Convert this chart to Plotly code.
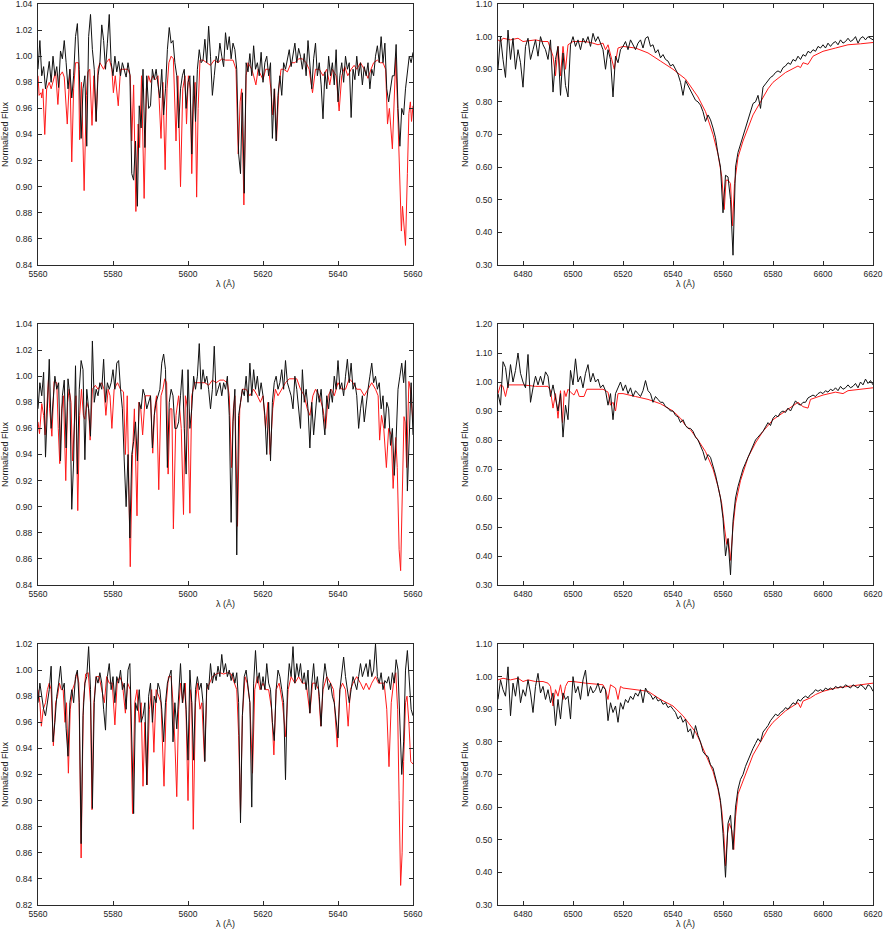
import numpy as np
import plotly.graph_objects as go

# ---------------- data ----------------
# Panel 1 (top-left): observed flux on a 0.5 A grid starting 5560 A
p1_obs_start, p1_obs_step = 5560.0, 0.5
p1_obs_flux = [
    0.990, 1.012, 0.985, 0.992, 0.975, 0.986, 0.996, 0.980, 1.000, 0.985,
    0.992, 0.976, 1.004, 0.998, 1.012, 0.995, 0.975, 0.990, 0.968, 0.985,
    1.015, 1.025, 0.990, 0.937, 0.975, 0.985, 0.931, 1.015, 1.032, 1.005,
    0.990, 0.950, 0.985, 0.995, 1.024, 1.012, 0.990, 1.010, 1.032, 0.995,
    0.985, 1.000, 0.988, 0.996, 0.985, 0.995, 0.990, 0.984, 0.995, 0.986,
    0.910, 0.905, 0.935, 0.885, 0.962, 0.945, 0.990, 0.930, 0.985, 0.960,
    0.962, 0.990, 0.982, 0.990, 0.978, 0.968, 0.990, 0.955, 0.975, 1.005,
    1.022, 1.010, 1.012, 0.995, 0.985, 0.945, 0.975, 0.985, 0.990, 0.960,
    0.980, 0.985, 0.925, 0.985, 0.950, 0.990, 1.005, 0.995, 0.997, 1.013,
    0.995, 1.023, 1.000, 0.970, 0.985, 1.000, 0.995, 1.010, 1.000, 0.992,
    1.018, 1.005, 1.015, 0.998, 1.010, 1.005, 0.990, 0.925, 0.910, 0.972,
    0.895, 0.995, 0.988, 1.002, 0.985, 1.008, 0.990, 0.995, 0.985, 1.003,
    0.980, 0.995, 1.000, 0.985, 0.995, 0.937, 0.975, 0.935, 0.970, 0.985,
    0.970, 0.995, 0.990, 0.998, 1.005, 0.992, 1.000, 1.010, 0.995, 1.006,
    1.000, 0.990, 1.002, 0.985, 1.012, 0.990, 0.975, 0.998, 1.010, 0.985,
    0.995, 0.978, 0.952, 0.988, 0.975, 1.000, 0.985, 0.995, 0.978, 1.005,
    0.965, 0.985, 0.995, 0.980, 1.000, 0.990, 0.995, 0.953, 0.990, 0.982,
    1.000, 0.985, 0.995, 0.978, 0.992, 0.985, 0.995, 0.975, 0.990, 0.985,
    1.000, 1.008, 0.995, 1.015, 0.995, 1.010, 0.975, 0.965, 0.975, 0.985,
    0.985, 1.009, 0.960, 0.931, 0.960, 0.955, 0.975, 0.990, 1.000, 0.995,
    1.003,
]
p1_mod_wave = [
    5560.0, 5560.3, 5560.8, 5561.0, 5561.3, 5561.8, 5562.3, 5563.0, 5563.5, 5564.0,
    5564.7, 5565.3, 5565.8, 5566.5, 5567.0, 5567.8, 5568.3, 5568.5, 5569.0, 5569.5,
    5570.0, 5570.8, 5571.1, 5571.6, 5572.3, 5572.9, 5573.3, 5573.8, 5574.4, 5574.9,
    5575.5, 5576.0, 5576.5, 5577.5, 5578.2, 5579.0, 5579.7, 5580.1, 5580.6, 5581.4,
    5582.0, 5583.0, 5584.0, 5584.6, 5585.0, 5585.5, 5586.1, 5586.7, 5587.1, 5587.6,
    5588.3, 5588.9, 5589.5, 5590.0, 5590.6, 5591.3, 5592.0, 5592.8, 5593.3, 5593.9,
    5594.4, 5594.9, 5595.5, 5596.1, 5596.8, 5597.3, 5598.0, 5598.6, 5599.2, 5599.6,
    5600.1, 5600.6, 5601.0, 5601.5, 5601.9, 5602.3, 5602.7, 5603.2, 5604.0, 5605.0,
    5606.0, 5607.0, 5608.0, 5609.0, 5610.0, 5611.0, 5612.0, 5612.8, 5613.4, 5613.9,
    5614.3, 5614.9, 5615.5, 5616.0, 5617.0, 5617.5, 5618.1, 5618.7, 5619.4, 5620.0,
    5620.7, 5621.5, 5622.1, 5622.6, 5623.1, 5623.6, 5624.2, 5624.8, 5625.5, 5626.5,
    5627.5, 5628.5, 5629.5, 5630.5, 5631.5, 5632.3, 5633.2, 5634.0, 5635.0, 5636.0,
    5637.0, 5637.8, 5638.5, 5639.5, 5640.3, 5641.0, 5641.8, 5642.6, 5643.5, 5644.3,
    5645.0, 5646.0, 5647.0, 5648.0, 5648.8, 5649.5, 5650.5, 5651.3, 5652.0, 5652.7,
    5653.2, 5653.7, 5654.5, 5655.0, 5655.4, 5655.9, 5656.4, 5656.9, 5657.2, 5657.6,
    5658.0, 5658.5, 5658.9, 5659.3, 5659.6, 5660.0,
]
p1_mod_flux = [
    0.985, 0.970, 0.972, 0.968, 0.975, 0.940, 0.975, 0.980, 0.975, 0.980,
    0.988, 0.963, 0.985, 0.988, 0.984, 0.948, 0.975, 0.990, 0.919, 0.975,
    0.995, 0.995, 0.936, 0.980, 0.897, 0.970, 0.988, 0.990, 0.947, 0.985,
    0.950, 0.990, 0.995, 0.990, 0.995, 0.998, 0.990, 0.972, 0.985, 0.962,
    0.990, 0.990, 0.990, 0.985, 0.935, 0.978, 0.881, 0.948, 0.930, 0.985,
    0.891, 0.975, 0.985, 0.980, 0.985, 0.982, 0.985, 0.937, 0.980, 0.913,
    0.975, 0.995, 1.000, 0.998, 0.935, 0.985, 0.900, 0.975, 0.985, 0.948,
    0.985, 0.975, 0.910, 0.970, 0.980, 0.892, 0.960, 0.997, 0.997, 0.995,
    0.993, 0.997, 0.995, 0.998, 0.997, 0.997, 0.997, 0.990, 0.925, 0.965,
    0.975, 0.886, 0.985, 0.995, 0.990, 0.985, 0.978, 0.990, 0.985, 0.982,
    0.990, 0.990, 0.975, 0.955, 0.975, 0.935, 0.975, 0.990, 0.990, 0.988,
    0.995, 0.995, 0.998, 0.998, 0.995, 0.990, 0.972, 0.990, 0.990, 0.985,
    0.990, 0.978, 0.990, 0.985, 0.958, 0.985, 0.992, 0.985, 0.990, 0.993,
    0.990, 0.995, 0.990, 0.983, 0.990, 0.995, 0.997, 0.995, 0.995, 0.990,
    0.948, 0.960, 0.929, 0.970, 0.999, 0.960, 0.910, 0.866, 0.885, 0.870,
    0.855, 0.910, 0.956, 0.965, 0.950, 0.962,
]

# Panel 2 (top-right): observed flux on a 1 A grid starting 6470 A
p2_obs_start, p2_obs_step = 6470.0, 1.0
p2_obs_flux = [
    0.90, 1.00, 0.93, 0.875, 1.02, 0.93, 0.995, 0.90, 0.96, 0.92,
    0.845, 0.97, 0.995, 0.93, 0.96, 0.99, 0.94, 1.00, 0.975, 0.96,
    0.93, 0.99, 0.83, 0.93, 0.97, 0.82, 0.95, 0.85, 0.815, 0.975,
    1.00, 0.97, 0.99, 0.96, 0.995, 0.98, 1.00, 0.97, 1.01, 0.985,
    1.00, 0.98, 0.96, 0.90, 0.96, 0.93, 0.815, 0.94, 0.92, 0.96,
    0.97, 0.985, 0.96, 0.99, 0.975, 0.96, 0.98, 0.99, 0.965, 0.995,
    1.00, 0.97, 0.975, 0.95, 0.96, 0.935, 0.945, 0.93, 0.925, 0.91,
    0.915, 0.90, 0.885, 0.86, 0.82, 0.865, 0.85, 0.84, 0.825, 0.805,
    0.80, 0.79, 0.77, 0.74, 0.76, 0.745, 0.72, 0.69, 0.64, 0.60,
    0.46, 0.575, 0.57, 0.50, 0.33, 0.60, 0.645, 0.67, 0.69, 0.72,
    0.745, 0.77, 0.795, 0.80, 0.82, 0.78, 0.845, 0.855, 0.865, 0.875,
    0.88, 0.89, 0.895, 0.89, 0.905, 0.91, 0.92, 0.915, 0.93, 0.925,
    0.94, 0.93, 0.945, 0.94, 0.955, 0.95, 0.96, 0.955, 0.97, 0.965,
    0.975, 0.965, 0.98, 0.97, 0.98, 0.985, 0.975, 0.99, 0.98, 0.985,
    0.995, 0.985, 0.99, 1.00, 0.98, 0.995, 1.00, 0.99, 1.00, 0.995,
    0.99,
]
p2_mod_wave = [
    6470, 6471, 6472, 6475, 6478, 6480, 6485, 6488, 6490, 6491,
    6492, 6493, 6494, 6495, 6496, 6497, 6498, 6500, 6505, 6508,
    6510, 6512, 6513, 6514, 6516.5, 6518, 6520, 6525, 6530, 6535,
    6540, 6545, 6550, 6553, 6556, 6558, 6559.5, 6560.5, 6561.2, 6562,
    6563, 6563.8, 6564.6, 6566, 6568, 6570, 6572, 6575, 6578, 6580,
    6585, 6590, 6591, 6592, 6594, 6596, 6600, 6605, 6610, 6615,
    6620,
]
p2_mod_flux = [
    0.99, 0.985, 0.995, 0.99, 0.995, 0.985, 0.99, 0.985, 0.985, 0.96,
    0.94, 0.88, 0.97, 0.88, 0.97, 0.90, 0.975, 0.985, 0.985, 0.98,
    0.975, 0.98, 0.96, 0.975, 0.90, 0.965, 0.97, 0.965, 0.95, 0.925,
    0.90, 0.87, 0.815, 0.77, 0.70, 0.64, 0.57, 0.47, 0.56, 0.56,
    0.55, 0.42, 0.55, 0.63, 0.68, 0.72, 0.76, 0.80, 0.84, 0.86,
    0.89, 0.91, 0.905, 0.92, 0.915, 0.94, 0.955, 0.965, 0.975, 0.978,
    0.982,
]

# Panel 3 (middle-left)
p3_obs_start, p3_obs_step = 5560.0, 0.5
p3_obs_flux = [
    0.975, 0.995, 0.985, 1.003, 0.938, 0.985, 1.013, 0.960, 0.980, 1.000,
    0.990, 0.995, 0.935, 0.985, 0.997, 0.945, 0.998, 0.985, 0.898, 0.935,
    1.008, 0.925, 0.990, 1.012, 1.005, 0.936, 0.990, 0.975, 0.954, 1.027,
    0.980, 0.990, 0.985, 0.995, 0.990, 1.013, 0.980, 0.995, 0.990, 0.995,
    1.005, 0.990, 1.010, 1.012, 0.990, 0.975, 0.935, 0.900, 0.940, 0.876,
    0.940, 0.950, 0.965, 0.935, 0.980, 0.975, 0.990, 0.985, 0.975, 0.980,
    0.985, 0.945, 0.970, 0.980, 0.985, 0.990, 1.010, 1.017, 1.005, 0.930,
    0.980, 0.990, 0.985, 0.960, 0.960, 0.965, 0.985, 1.005, 0.960, 0.925,
    1.005, 0.960, 0.975, 1.000, 0.990, 1.000, 1.025, 0.990, 1.005, 0.995,
    1.000, 0.990, 0.975, 0.990, 1.023, 0.985, 0.990, 0.995, 0.985, 0.995,
    0.990, 1.000, 0.970, 0.888, 0.965, 0.990, 0.863, 0.970, 0.980, 0.990,
    0.985, 1.000, 0.980, 1.010, 0.985, 1.005, 0.990, 1.000, 0.985, 0.995,
    0.985, 0.970, 0.940, 0.980, 0.935, 0.980, 0.995, 1.000, 0.990, 0.995,
    1.005, 0.990, 1.012, 0.995, 0.990, 0.985, 0.975, 1.000, 0.990, 0.975,
    0.960, 1.005, 0.980, 0.990, 0.975, 0.945, 0.980, 0.955, 0.970, 0.990,
    0.980, 0.990, 0.970, 0.955, 0.985, 0.975, 0.990, 0.980, 1.000, 0.990,
    1.012, 0.990, 0.995, 0.985, 1.000, 1.013, 0.995, 1.010, 0.990, 0.995,
    0.985, 0.960, 0.975, 0.985, 0.965, 0.980, 0.990, 1.000, 1.010, 0.995,
    1.000, 0.990, 0.995, 0.975, 0.985, 0.960, 0.980, 0.975, 0.947, 0.960,
    0.924, 0.952, 0.990, 1.000, 1.010, 0.995, 1.012, 0.912, 0.960, 0.995,
    0.955,
]
p3_mod_wave = [
    5560.0, 5560.4, 5561.0, 5561.5, 5561.9, 5562.5, 5562.8, 5563.1, 5563.7, 5564.3,
    5565.0, 5565.4, 5565.8, 5566.3, 5566.8, 5567.4, 5567.9, 5568.3, 5568.8, 5569.2,
    5569.7, 5570.1, 5570.6, 5571.1, 5571.6, 5572.1, 5572.5, 5573.0, 5573.5, 5573.9,
    5574.5, 5575.3, 5576.0, 5577.0, 5577.6, 5578.1, 5578.7, 5579.2, 5579.7, 5580.3,
    5581.2, 5582.0, 5582.8, 5583.3, 5583.8, 5584.6, 5585.2, 5585.7, 5586.4, 5586.9,
    5587.4, 5587.9, 5588.6, 5589.5, 5590.0, 5590.6, 5591.1, 5591.6, 5592.2, 5592.8,
    5593.3, 5593.8, 5594.3, 5594.7, 5595.2, 5595.7, 5596.1, 5596.8, 5597.5, 5598.2,
    5598.8, 5599.3, 5599.9, 5600.5, 5601.0, 5601.8, 5602.5, 5603.5, 5604.5, 5605.5,
    5606.5, 5607.5, 5608.5, 5609.5, 5610.5, 5611.0, 5611.6, 5612.1, 5612.5, 5613.2,
    5613.8, 5614.5, 5615.5, 5616.5, 5617.5, 5618.5, 5619.3, 5620.0, 5620.7, 5621.3,
    5621.9, 5622.6, 5623.3, 5624.0, 5625.0, 5626.0, 5627.0, 5628.0, 5629.0, 5630.0,
    5631.0, 5631.8, 5632.5, 5633.3, 5634.0, 5635.0, 5636.0, 5636.7, 5637.4, 5638.2,
    5639.0, 5640.0, 5641.0, 5642.0, 5643.0, 5644.0, 5645.0, 5646.0, 5647.0, 5648.0,
    5649.0, 5650.0, 5650.7, 5651.1, 5651.6, 5652.2, 5652.9, 5653.5, 5654.2, 5654.7,
    5655.1, 5655.4, 5655.8, 5656.3, 5656.7, 5657.1, 5657.6, 5657.9, 5658.3, 5658.9,
    5659.3, 5659.7, 5660.0,
]
p3_mod_flux = [
    0.965, 0.956, 0.979, 0.970, 0.955, 0.985, 0.998, 0.975, 0.954, 0.996,
    0.995, 0.960, 0.933, 0.975, 0.985, 0.920, 0.980, 0.990, 0.980, 0.935,
    0.970, 0.985, 0.897, 0.970, 0.990, 0.970, 0.967, 0.980, 0.975, 0.951,
    0.990, 0.993, 0.990, 0.995, 0.990, 0.970, 0.990, 0.985, 0.960, 0.990,
    0.995, 0.990, 0.988, 0.940, 0.985, 0.854, 0.940, 0.975, 0.893, 0.980,
    0.975, 0.955, 0.985, 0.985, 0.985, 0.941, 0.975, 0.985, 0.913, 0.985,
    0.990, 0.998, 0.995, 0.925, 0.975, 0.975, 0.883, 0.970, 0.985, 0.960,
    0.894, 0.985, 0.975, 0.895, 0.985, 0.995, 0.995, 0.995, 0.995, 0.993,
    0.997, 0.995, 0.997, 0.997, 0.995, 0.985, 0.930, 0.975, 0.985, 0.885,
    0.975, 0.990, 0.990, 0.985, 0.990, 0.985, 0.980, 0.985, 0.960, 0.980,
    0.940, 0.975, 0.990, 0.985, 0.990, 0.995, 0.998, 0.998, 0.998, 0.990,
    0.985, 0.975, 0.970, 0.985, 0.990, 0.985, 0.975, 0.960, 0.985, 0.990,
    0.985, 0.995, 0.990, 0.990, 0.998, 0.995, 0.990, 0.990, 0.985, 0.990,
    0.995, 0.990, 0.985, 0.951, 0.970, 0.960, 0.930, 0.960, 0.955, 0.914,
    0.940, 0.953, 0.930, 0.867, 0.851, 0.900, 0.969, 0.965, 0.930, 0.996,
    0.990, 0.975, 0.965,
]

# Panel 4 (middle-right)
p4_obs_start, p4_obs_step = 6470.0, 1.0
p4_obs_flux = [
    0.96, 0.92, 1.07, 1.05, 0.98, 1.06, 1.00, 1.04, 1.10, 1.03,
    1.00, 0.98, 1.095, 0.93, 0.98, 1.02, 0.99, 1.02, 0.99, 1.035,
    1.02, 0.95, 0.99, 0.94, 0.90, 0.96, 0.81, 0.92, 0.87, 1.04,
    0.99, 1.08, 1.00, 1.02, 0.98, 1.03, 1.06, 1.00, 1.03, 1.00,
    1.01, 0.98, 0.99, 0.97, 0.92, 0.96, 0.87, 0.96, 0.98, 1.00,
    0.97, 0.99, 0.96, 0.98, 0.95, 0.97, 0.96, 0.95, 0.97, 1.005,
    0.97, 0.96, 0.93, 0.95, 0.94, 0.93, 0.93, 0.915, 0.91, 0.90,
    0.90, 0.885, 0.88, 0.86, 0.87, 0.85, 0.84, 0.84, 0.83, 0.81,
    0.80, 0.78, 0.76, 0.73, 0.75, 0.74, 0.71, 0.68, 0.64, 0.60,
    0.53, 0.40, 0.46, 0.335, 0.52, 0.60, 0.64, 0.67, 0.70, 0.72,
    0.74, 0.76, 0.785, 0.80, 0.81, 0.82, 0.83, 0.845, 0.86, 0.85,
    0.875, 0.885, 0.88, 0.895, 0.90, 0.895, 0.91, 0.90, 0.92, 0.935,
    0.925, 0.92, 0.93, 0.93, 0.945, 0.95, 0.955, 0.95, 0.96, 0.965,
    0.96, 0.97, 0.965, 0.975, 0.97, 0.98, 0.97, 0.985, 0.975, 0.98,
    0.99, 0.98, 0.985, 0.995, 0.98, 1.00, 0.99, 1.01, 0.995, 1.005,
    0.99,
]
p4_mod_wave = [
    6470, 6471, 6472, 6473, 6474, 6476, 6480, 6485, 6490, 6491,
    6492, 6493, 6494, 6495, 6495.8, 6496.5, 6497.2, 6498, 6499, 6500.4,
    6501.5, 6502.5, 6504.4, 6505.5, 6508, 6512, 6514, 6515, 6516, 6517,
    6518, 6520, 6525, 6530, 6535, 6540, 6543, 6545, 6547, 6550,
    6553, 6556, 6558, 6559.5, 6560.7, 6561.5, 6562.1, 6563, 6564, 6565,
    6567, 6570, 6573, 6576, 6580, 6585, 6590, 6592, 6594, 6595,
    6600, 6605, 6608, 6610, 6615, 6620,
]
p4_mod_flux = [
    0.96, 0.99, 0.985, 0.95, 0.99, 0.99, 0.99, 0.985, 0.985, 0.97,
    0.91, 0.96, 0.875, 0.97, 0.86, 0.97, 0.95, 0.975, 0.965, 0.955,
    0.975, 0.95, 0.95, 0.975, 0.975, 0.975, 0.965, 0.92, 0.93, 0.90,
    0.96, 0.96, 0.95, 0.94, 0.925, 0.90, 0.875, 0.85, 0.835, 0.80,
    0.76, 0.70, 0.64, 0.58, 0.49, 0.44, 0.46, 0.385, 0.50, 0.58,
    0.66, 0.74, 0.79, 0.83, 0.87, 0.90, 0.93, 0.915, 0.91, 0.94,
    0.955, 0.965, 0.96, 0.97, 0.975, 0.98,
]

# Panel 5 (bottom-left)
p5_obs_start, p5_obs_step = 5560.0, 0.5
p5_obs_flux = [
    0.975, 0.990, 0.980, 0.970, 0.965, 0.975, 0.985, 1.003, 0.945, 0.960,
    0.980, 0.990, 1.003, 0.985, 0.990, 0.955, 0.934, 0.975, 0.985, 0.975,
    0.995, 1.000, 0.975, 0.867, 0.965, 0.990, 0.995, 1.018, 0.985, 0.894,
    0.975, 0.995, 0.990, 0.998, 0.990, 0.970, 0.954, 0.995, 1.005, 0.985,
    0.995, 0.975, 0.995, 0.990, 1.000, 0.985, 0.990, 0.970, 1.000, 1.005,
    0.950, 0.890, 0.975, 0.969, 0.985, 0.960, 0.965, 0.975, 0.912, 0.980,
    0.990, 0.960, 0.980, 0.975, 0.990, 0.985, 0.970, 0.945, 0.975, 0.990,
    0.995, 1.000, 0.945, 0.975, 0.955, 0.985, 1.005, 0.975, 0.990, 0.970,
    0.931, 1.000, 0.975, 0.931, 0.985, 0.995, 0.985, 0.990, 0.975, 0.930,
    0.990, 0.985, 1.005, 0.990, 0.998, 0.992, 1.003, 0.995, 1.012, 0.998,
    1.005, 0.995, 1.000, 0.992, 0.998, 0.990, 0.998, 0.975, 0.883, 0.965,
    0.995, 1.000, 0.985, 0.975, 0.895, 0.990, 1.015, 0.990, 0.998, 0.985,
    0.995, 0.985, 1.005, 0.990, 0.985, 0.960, 0.946, 0.985, 1.000, 0.995,
    0.985, 0.975, 0.916, 0.985, 1.005, 0.995, 1.018, 0.990, 1.005, 0.995,
    1.005, 0.990, 0.998, 0.985, 1.000, 0.967, 0.990, 1.005, 0.985, 0.995,
    0.980, 0.957, 0.990, 1.005, 0.995, 0.985, 0.990, 0.980, 0.975, 0.960,
    0.948, 0.985, 1.000, 1.010, 0.995, 0.985, 0.975, 0.985, 0.995, 0.990,
    0.985, 0.995, 1.005, 0.995, 1.000, 1.005, 0.995, 1.008, 0.995, 1.000,
    1.020, 0.995, 0.990, 0.998, 0.985, 0.992, 0.990, 0.995, 0.985, 0.998,
    0.990, 1.008, 1.000, 0.950, 0.920, 0.945, 1.000, 1.015, 0.990, 0.970,
    0.965,
]
p5_mod_wave = [
    5560.0, 5560.5, 5560.9, 5561.4, 5562.0, 5562.5, 5563.0, 5563.5, 5564.1, 5564.7,
    5565.2, 5565.7, 5566.2, 5566.7, 5567.2, 5567.6, 5568.1, 5568.6, 5569.2, 5569.8,
    5570.4, 5570.9, 5571.5, 5572.1, 5572.7, 5573.4, 5574.0, 5574.4, 5574.9, 5575.5,
    5576.3, 5577.0, 5577.7, 5578.3, 5579.0, 5579.8, 5580.5, 5581.1, 5581.8, 5582.5,
    5583.3, 5583.9, 5584.6, 5585.2, 5585.8, 5586.4, 5587.0, 5587.5, 5588.0, 5588.5,
    5589.1, 5589.7, 5590.3, 5590.9, 5591.5, 5592.2, 5592.8, 5593.6, 5594.2, 5594.8,
    5595.5, 5596.0, 5596.5, 5597.0, 5597.5, 5598.0, 5598.6, 5599.3, 5600.0, 5600.6,
    5601.0, 5601.4, 5602.0, 5602.5, 5603.2, 5603.7, 5604.4, 5605.0, 5605.7, 5606.5,
    5607.5, 5608.5, 5609.5, 5610.5, 5611.5, 5612.3, 5613.0, 5613.5, 5614.0, 5614.5,
    5615.2, 5615.8, 5616.5, 5617.2, 5617.8, 5618.5, 5619.2, 5620.0, 5620.7, 5621.5,
    5622.3, 5622.9, 5623.5, 5624.3, 5625.2, 5626.0, 5626.7, 5627.5, 5628.5, 5629.5,
    5630.5, 5631.5, 5632.5, 5633.2, 5634.0, 5634.8, 5635.4, 5636.0, 5637.0, 5638.0,
    5638.8, 5639.8, 5640.5, 5641.2, 5642.0, 5642.7, 5643.3, 5644.0, 5645.0, 5646.0,
    5646.8, 5647.5, 5648.3, 5649.0, 5650.0, 5650.8, 5651.5, 5652.3, 5653.0, 5653.6,
    5654.2, 5654.8, 5655.4, 5655.9, 5656.3, 5656.7, 5657.1, 5657.5, 5658.0, 5658.4,
    5658.9, 5659.4, 5660.0,
]
p5_mod_flux = [
    0.985, 0.975, 0.957, 0.970, 0.975, 0.985, 0.990, 0.985, 0.942, 0.975,
    0.980, 0.990, 0.985, 0.985, 0.960, 0.975, 0.921, 0.970, 0.985, 0.990,
    0.998, 0.990, 0.856, 0.975, 0.997, 0.998, 0.975, 0.893, 0.975, 0.995,
    0.995, 0.985, 0.975, 0.995, 0.990, 0.990, 0.958, 0.990, 0.995, 0.990,
    0.967, 0.990, 0.985, 0.890, 0.975, 0.985, 0.960, 0.975, 0.911, 0.960,
    0.912, 0.970, 0.985, 0.937, 0.985, 0.980, 0.975, 0.911, 0.975, 0.995,
    0.995, 0.975, 0.945, 0.903, 0.970, 0.990, 0.975, 0.990, 0.900, 0.985,
    0.975, 0.878, 0.975, 0.990, 0.970, 0.975, 0.930, 0.985, 0.990, 0.995,
    0.997, 0.998, 0.997, 0.998, 0.997, 0.990, 0.985, 0.950, 0.890, 0.965,
    0.995, 0.990, 0.975, 0.921, 0.985, 0.995, 0.985, 0.990, 0.985, 0.985,
    0.970, 0.935, 0.985, 0.990, 0.975, 0.949, 0.985, 0.995, 0.990, 0.995,
    0.990, 0.990, 0.967, 0.990, 0.990, 0.985, 0.957, 0.985, 0.995, 0.990,
    0.985, 0.941, 0.985, 0.990, 0.985, 0.957, 0.985, 0.990, 0.995, 0.990,
    0.985, 0.990, 0.985, 0.990, 0.995, 0.990, 0.990, 0.990, 0.970, 0.926,
    0.975, 0.990, 0.998, 0.970, 0.900, 0.835, 0.860, 0.930, 0.975, 0.980,
    0.960, 0.930, 0.928,
]

# Panel 6 (bottom-right)
p6_obs_start, p6_obs_step = 6470.0, 1.0
p6_obs_flux = [
    0.93, 0.99, 0.96, 0.94, 1.03, 0.88, 0.98, 0.94, 1.00, 0.92,
    0.96, 0.94, 0.99, 0.95, 0.89, 0.97, 1.01, 0.95, 0.97, 0.93,
    0.96, 0.92, 0.95, 0.85, 0.93, 0.87, 0.95, 0.93, 0.94, 0.87,
    1.00, 0.95, 0.97, 0.93, 0.99, 1.02, 0.94, 0.97, 0.95, 0.96,
    0.98, 0.95, 0.97, 0.96, 0.865, 0.92, 0.89, 0.91, 0.86, 0.92,
    0.90, 0.93, 0.92, 0.94, 0.93, 0.95, 0.94, 0.96, 0.92, 0.965,
    0.95, 0.945, 0.93, 0.94, 0.925, 0.93, 0.915, 0.92, 0.905, 0.91,
    0.90, 0.89, 0.87, 0.88, 0.86, 0.87, 0.83, 0.84, 0.81, 0.85,
    0.82, 0.80, 0.77, 0.76, 0.755, 0.73, 0.72, 0.69, 0.66, 0.62,
    0.52, 0.385, 0.55, 0.575, 0.47, 0.60, 0.655, 0.685, 0.70, 0.725,
    0.745, 0.76, 0.78, 0.795, 0.81, 0.80, 0.83, 0.84, 0.85, 0.865,
    0.875, 0.885, 0.88, 0.89, 0.895, 0.905, 0.90, 0.91, 0.92, 0.915,
    0.93, 0.925, 0.935, 0.94, 0.935, 0.945, 0.95, 0.96, 0.955, 0.96,
    0.955, 0.965, 0.96, 0.965, 0.96, 0.97, 0.965, 0.97, 0.965, 0.975,
    0.97, 0.965, 0.975, 0.97, 0.965, 0.975, 0.97, 0.96, 0.975, 0.97,
    0.955,
]
p6_mod_wave = [
    6470, 6472, 6475, 6478, 6480, 6482, 6485, 6488, 6490, 6491,
    6492, 6493, 6494, 6495, 6496, 6497, 6498, 6500, 6505, 6510,
    6512, 6513, 6514, 6515, 6517, 6518, 6519, 6520, 6525, 6530,
    6535, 6540, 6544, 6546, 6548, 6549, 6550, 6553, 6556, 6558,
    6559.5, 6560.3, 6561, 6561.8, 6562.5, 6563.5, 6564.3, 6565, 6566, 6568,
    6570, 6572, 6575, 6578, 6580, 6585, 6588, 6590, 6591, 6592,
    6595, 6597, 6600, 6605, 6610, 6615, 6620,
]
p6_mod_flux = [
    0.99, 0.995, 0.99, 0.995, 0.985, 0.99, 0.985, 0.985, 0.98, 0.97,
    0.91, 0.96, 0.94, 0.975, 0.93, 0.97, 0.985, 0.985, 0.98, 0.975,
    0.975, 0.96, 0.93, 0.975, 0.965, 0.93, 0.97, 0.965, 0.96, 0.955,
    0.93, 0.91, 0.88, 0.86, 0.84, 0.83, 0.815, 0.76, 0.71, 0.655,
    0.59, 0.52, 0.42, 0.52, 0.55, 0.53, 0.47, 0.57, 0.64, 0.68,
    0.72, 0.76, 0.80, 0.84, 0.86, 0.895, 0.91, 0.92, 0.905, 0.925,
    0.935, 0.945, 0.955, 0.965, 0.97, 0.975, 0.98,
]

# axis settings (tick values / ranges)
left_x_range = [5560, 5660]
left_x_ticks = [5560, 5580, 5600, 5620, 5640, 5660]
right_x_range = [6470, 6620]
right_x_ticks = [6480, 6500, 6520, 6540, 6560, 6580, 6600, 6620]
y_ranges = {
    1: [0.84, 1.04], 2: [0.30, 1.10],
    3: [0.84, 1.04], 4: [0.30, 1.20],
    5: [0.82, 1.02], 6: [0.30, 1.10],
}
y_ticks = {
    1: [0.84, 0.86, 0.88, 0.90, 0.92, 0.94, 0.96, 0.98, 1.00, 1.02, 1.04],
    2: [0.30, 0.40, 0.50, 0.60, 0.70, 0.80, 0.90, 1.00, 1.10],
    3: [0.84, 0.86, 0.88, 0.90, 0.92, 0.94, 0.96, 0.98, 1.00, 1.02, 1.04],
    4: [0.30, 0.40, 0.50, 0.60, 0.70, 0.80, 0.90, 1.00, 1.10, 1.20],
    5: [0.82, 0.84, 0.86, 0.88, 0.90, 0.92, 0.94, 0.96, 0.98, 1.00, 1.02],
    6: [0.30, 0.40, 0.50, 0.60, 0.70, 0.80, 0.90, 1.00, 1.10],
}

panels = {
    1: (p1_obs_start, p1_obs_step, p1_obs_flux, p1_mod_wave, p1_mod_flux),
    2: (p2_obs_start, p2_obs_step, p2_obs_flux, p2_mod_wave, p2_mod_flux),
    3: (p3_obs_start, p3_obs_step, p3_obs_flux, p3_mod_wave, p3_mod_flux),
    4: (p4_obs_start, p4_obs_step, p4_obs_flux, p4_mod_wave, p4_mod_flux),
    5: (p5_obs_start, p5_obs_step, p5_obs_flux, p5_mod_wave, p5_mod_flux),
    6: (p6_obs_start, p6_obs_step, p6_obs_flux, p6_mod_wave, p6_mod_flux),
}

# ---------------- layout geometry (pixels) ----------------
W, H = 883, 930
col_px = {0: (38, 413), 1: (498, 873)}
row_px = {0: (4, 265), 1: (324, 585), 2: (644, 905)}

FONT = "Liberation Sans Narrow, Arial Narrow, Liberation Sans, Arial, sans-serif"
AXC = "#2a2a2a"

fig = go.Figure()
layout = dict(
    width=W, height=H, margin=dict(l=0, r=0, t=0, b=0, pad=0, autoexpand=False),
    paper_bgcolor="white", plot_bgcolor="white", showlegend=False,
    font=dict(family=FONT, size=8.5, color="#222"),
)
annotations = []

for k in range(1, 7):
    r = (k - 1) // 2
    c = (k - 1) % 2
    x0, x1 = col_px[c]
    y0, y1 = row_px[r]
    xa = "xaxis" if k == 1 else f"xaxis{k}"
    ya = "yaxis" if k == 1 else f"yaxis{k}"
    xref = "x" if k == 1 else f"x{k}"
    yref = "y" if k == 1 else f"y{k}"

    start, step, obs, mwave, mflux = panels[k]
    owave = start + step * np.arange(len(obs))

    fig.add_trace(go.Scatter(x=mwave, y=mflux, mode="lines",
                             line=dict(color="#ff1a1a", width=1),
                             xaxis=xref, yaxis=yref, hoverinfo="skip"))
    fig.add_trace(go.Scatter(x=owave, y=obs, mode="lines",
                             line=dict(color="#111111", width=1),
                             xaxis=xref, yaxis=yref, hoverinfo="skip"))

    common = dict(showline=True, linecolor=AXC, linewidth=1, mirror="ticks",
                  ticks="inside", ticklen=4, tickwidth=1, tickcolor=AXC,
                  showgrid=False, zeroline=False, automargin=False,
                  ticklabeloverflow="allow",
                  tickfont=dict(family=FONT, size=8.5, color="#222"))
    if c == 0:
        xr, xt = left_x_range, left_x_ticks
    else:
        xr, xt = right_x_range, right_x_ticks
    layout[xa] = dict(common, domain=[x0 / W, x1 / W], range=xr,
                      tickmode="array", tickvals=xt,
                      ticktext=[str(v) for v in xt],
                      anchor=yref, ticklabelstandoff=1)
    yr = y_ranges[k]
    yt = y_ticks[k]
    layout[ya] = dict(common, domain=[1 - y1 / H, 1 - y0 / H], range=yr,
                      tickmode="array", tickvals=yt,
                      ticktext=[f"{v:.2f}" for v in yt],
                      anchor=xref, ticklabelstandoff=3)

    # axis titles
    annotations.append(dict(text="Normalized Flux", xref="paper", yref="paper",
                            x=(x0 - 33.5) / W, y=1 - ((y0 + y1) / 2) / H,
                            textangle=-90, showarrow=False,
                            font=dict(family=FONT, size=9, color="#222"),
                            xanchor="center", yanchor="middle"))
    annotations.append(dict(text="λ (Å)", xref="paper", yref="paper",
                            x=((x0 + x1) / 2) / W, y=1 - (y1 + 19) / H,
                            showarrow=False,
                            font=dict(family=FONT, size=9, color="#222"),
                            xanchor="center", yanchor="middle"))

layout["annotations"] = annotations
fig.update_layout(**layout)
fig.write_html("out.html",
               config={"displayModeBar": False},
               post_script="document.body.style.margin='0px';"
                           "document.body.style.overflow='hidden';")
